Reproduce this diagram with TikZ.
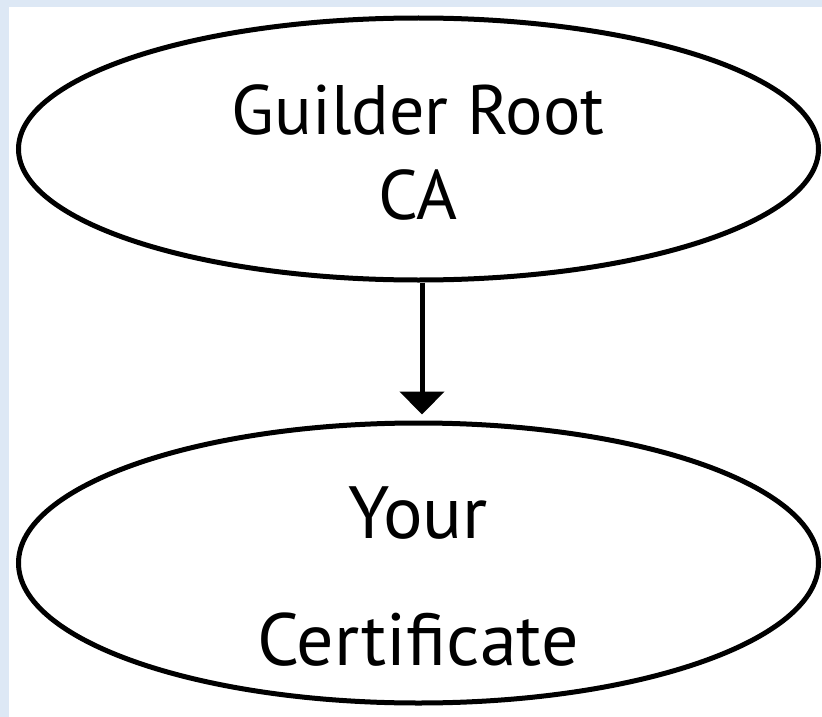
\documentclass[tikz,border=0pt]{standalone}
\usepackage{fontspec}
\setmainfont{PT Sans}
\usepackage{tikz}
\usetikzlibrary{shapes.geometric, arrows.meta, positioning, calc}
\definecolor{paleblue}{RGB}{221,232,245}

\begin{document}
\begin{tikzpicture}[
				x=1pt, y=1pt,
				certnode/.style={ellipse, draw=black, line width=5pt, fill=white,
					minimum width=800pt, inner sep=0pt},
				rootlabel/.style={align=center, inner sep=0pt,
					font=\fontsize{70}{85}\selectfont},
				certlabel/.style={align=center, inner sep=0pt,
					font=\fontsize{74}{127}\selectfont},
				arrow/.style={-{Triangle[width=44pt, length=23pt]}, line width=5pt, color=black}
				]
				% frame
				\fill[paleblue] (0,0) rectangle (822,-717);
				\fill[white] (9,-7) rectangle (822,-717);
				\useasboundingbox (0,0) rectangle (822,-717);

				\node[certnode, minimum height=262pt] (root) at (418.5,-149) {};
				\node[certnode, minimum height=280pt] (cert) at (418.5,-563) {};
				\node[rootlabel] (roottext) at (418,-152) {Guilder Root\\CA};
				\node[certlabel] (certtext) at (418,-577) {Your\\Certificate};

				\draw[arrow, shorten >=6pt] ($(root.south)+(3.5,0)$) -- ($(cert.north)+(3.5,0)$);
			\end{tikzpicture}
\end{document}
